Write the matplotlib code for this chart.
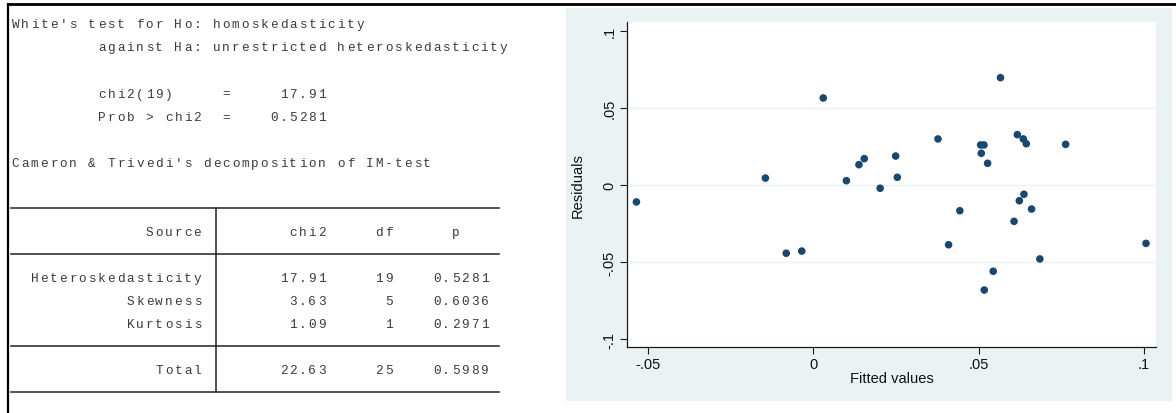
import matplotlib
matplotlib.use("Agg")
import matplotlib.pyplot as plt
from matplotlib.patches import Rectangle

# White test summary
chi2_stat = 17.91
chi2_dof = 19
chi2_prob = 0.5281

# Cameron & Trivedi decomposition
sources = ["Heteroskedasticity", "Skewness", "Kurtosis"]
src_chi2 = [17.91, 3.63, 1.09]
src_df = [19, 5, 1]
src_p = [0.5281, 0.6036, 0.2971]
total_chi2 = 22.63
total_df = 25
total_p = 0.5989

# residuals vs fitted values
fitted = [-0.0535, -0.0145, -0.0082, -0.0035, 0.0030, 0.0100, 0.0138, 0.0154,
          0.0202, 0.0249, 0.0254, 0.0377, 0.0409, 0.0443, 0.0506, 0.0516,
          0.0508, 0.0527, 0.0517, 0.0544, 0.0566, 0.0607, 0.0617, 0.0623,
          0.0635, 0.0637, 0.0644, 0.0660, 0.0685, 0.0763, 0.1006]
resid = [-0.0110, 0.0045, -0.0443, -0.0429, 0.0565, 0.0028, 0.0132, 0.0171,
         -0.0021, 0.0188, 0.0050, 0.0299, -0.0388, -0.0167, 0.0260, 0.0260,
         0.0206, 0.0141, -0.0682, -0.0560, 0.0697, -0.0236, 0.0327, -0.0102,
         0.0299, -0.0060, 0.0268, -0.0156, -0.0480, 0.0264, -0.0379]

xticks = [-0.05, 0, 0.05, 0.1]
xtick_labels = ["-.05", "0", ".05", ".1"]
yticks = [-0.1, -0.05, 0, 0.05, 0.1]
ytick_labels = ["-.1", "-.05", "0", ".05", ".1"]

W, H = 1176, 414
fig = plt.figure(figsize=(W / 100, H / 100), dpi=100)
fig.patch.set_facecolor("white")

# pixel-coordinate overlay for the text log and the frame
bg = fig.add_axes([0, 0, 1, 1], zorder=0)
bg.set_xlim(0, W)
bg.set_ylim(H, 0)
bg.axis("off")

# frame
bg.plot([7, W], [4.5, 4.5], color="black", lw=2, solid_capstyle="butt")
bg.plot([7.5, 7.5], [3.5, H], color="black", lw=1.6, solid_capstyle="butt")

# monospace log, one character per column
col0 = 15.5
pitch = 9.57
row0 = 28.3
row_h = 23.07
mono = dict(family="Liberation Mono", fontsize=9.2, color="#3a3a3a")


def put_line(k, s):
    y = row0 + row_h * k
    for i, ch in enumerate(s):
        if ch != " ":
            bg.text(col0 + pitch * i, y, ch, ha="center", va="baseline", **mono)


def rule(k):
    y = row0 + row_h * k - 4
    bg.plot([col0 - 4.8, col0 + pitch * 50 + 4.8], [y, y], color="#222222", lw=1.1)


put_line(0, "White's test for Ho: homoskedasticity")
put_line(1, " " * 9 + "against Ha: unrestricted heteroskedasticity")
put_line(3, " " * 9 + f"{'chi2(%d)' % chi2_dof:<13}={chi2_stat:>10.2f}")
put_line(4, " " * 9 + f"{'Prob > chi2':<13}={chi2_prob:>10.4f}")
put_line(6, "Cameron & Trivedi's decomposition of IM-test")

rule(8)
put_line(9, f"{'Source':>20}  {'chi2':>11}{'df':>7}{'p':>7}")
rule(10)
for j, (name, c, d, p) in enumerate(zip(sources, src_chi2, src_df, src_p)):
    put_line(11 + j, f"{name:>20}  {c:>11.2f}{d:>7d}{p:>10.4f}")
rule(14)
put_line(15, f"{'Total':>20}  {total_chi2:>11.2f}{total_df:>7d}{total_p:>10.4f}")
rule(16)

# table column separator
xb = col0 + pitch * 21
bg.plot([xb, xb], [row0 + row_h * 8 - 4, row0 + row_h * 16 - 4], color="#222222", lw=1.1)

# graph panel background
bg.add_patch(Rectangle((566, 9), 606, 393, facecolor="#EAF2F3", edgecolor="none"))

sans = "Liberation Sans"
bg.text(891.5, 379, "Fitted values", ha="center", va="center", family=sans,
        fontsize=10.5, color="#111111")
bg.text(578, 185.5, "Residuals", ha="center", va="center", rotation=90,
        family=sans, fontsize=10.5, color="#111111")

# scatter plot region
left, right, top, bottom = 627, 1156, 23, 348
ax = fig.add_axes([left / W, (H - bottom) / H, (right - left) / W, (bottom - top) / H],
                  zorder=1)
ax.set_facecolor("white")
ax.set_xlim(-0.05635, 0.10363)
ax.set_ylim(-0.10519, 0.10584)

for g in yticks[1:-1]:
    ax.axhline(g, color="#EAF2F3", lw=1.0, zorder=0)

ax.scatter(fitted, resid, s=30, color="#1A476F", edgecolors="none", zorder=3)

for side in ["top", "right"]:
    ax.spines[side].set_visible(False)
for side in ["left", "bottom"]:
    ax.spines[side].set_color("#1a1a1a")
    ax.spines[side].set_linewidth(0.9)

ax.set_xticks(xticks)
ax.set_xticklabels(xtick_labels, family=sans, fontsize=10.5, color="#111111")
ax.set_yticks(yticks)
ax.set_yticklabels(ytick_labels, family=sans, fontsize=10.5, color="#111111",
                   rotation=90, va="center")
ax.tick_params(axis="both", length=5, width=0.8, color="#1a1a1a")
ax.tick_params(axis="x", pad=2)
ax.tick_params(axis="y", pad=2.5)

fig.savefig("out.png", dpi=100)
